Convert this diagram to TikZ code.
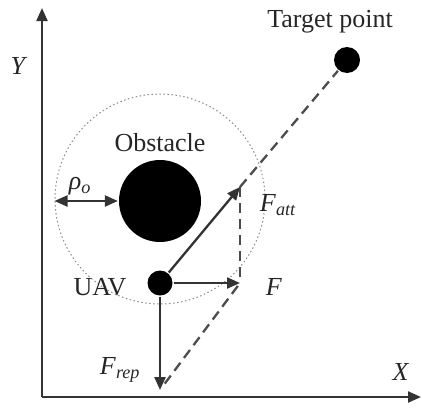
\documentclass[tikz,border=0pt]{standalone}
\usepackage{fontspec}
\setmainfont{Liberation Serif}
\usetikzlibrary{arrows.meta}
\begin{document}
\begin{tikzpicture}[x=1pt,y=-1pt, line width=2.3pt,
  vec/.style={draw=black!80, -{Triangle[length=13pt,width=11pt]}},
  dvec/.style={draw=black!80, {Triangle[length=13pt,width=11pt]}-{Triangle[length=13pt,width=11pt]}},
  dashline/.style={draw=black!70, dash pattern=on 10pt off 6pt},
  lbl/.style={font=\fontsize{26}{30}\selectfont, text=black!85, inner sep=0pt},
  ball/.style={circle, fill=black, inner sep=0pt}]
\useasboundingbox (0,0) rectangle (422,407);
% axes
\coordinate (O) at (42,397);
\coordinate (ytip) at (42,8);
\coordinate (xtip) at (421,397);
\draw[vec] (O) -- (ytip);
\draw[vec] (O) -- (xtip);
\node[lbl] (ylab) at (19,66) {\textit{Y}};
\node[lbl] (xlab) at (401,372) {\textit{X}};
% influence zone
\node[circle, draw=black!45, line width=1pt, dash pattern=on 1.5pt off 2.5pt, minimum size=210pt, inner sep=0pt] (zone) at (160,199) {};
% obstacle
\node[ball, minimum size=82pt] (obs) at (160,201) {};
\node[lbl] (obslab) at (160,143) {Obstacle};
\draw[dvec] (zone.west |- obs) -- (obs.west);
\node[lbl] (rholab) at (80,186) {\textit{ρ}\textsubscript{\textit{o}}};
% target
\node[ball, minimum size=26pt] (target) at (347,60) {};
\node[lbl] (tlab) at (330,22) {Target point};
% UAV
\node[ball, minimum size=25pt] (uav) at (160,283) {};
\node[lbl] (uavlab) at (100,287) {UAV};
\coordinate (fatt) at (240,187);
\coordinate (fsum) at (240,283);
\coordinate (frep) at (160,390);
\draw[dashline] (fatt) -- (target);
\draw[dashline] (fatt) -- (fsum);
\draw[dashline, shorten <=8pt] (frep) -- (fsum);
\draw[vec] (uav) -- (fatt);
\draw[vec] (uav) -- (fsum);
\draw[vec] (uav) -- (frep);
\node[lbl] (fattlab) at (278,205) {\textit{F}\textsubscript{\textit{att}}};
\node[lbl] (flab) at (274,287) {\textit{F}};
\node[lbl] (freplab) at (120,370) {\textit{F}\textsubscript{\textit{rep}}};
\end{tikzpicture}
\end{document}
